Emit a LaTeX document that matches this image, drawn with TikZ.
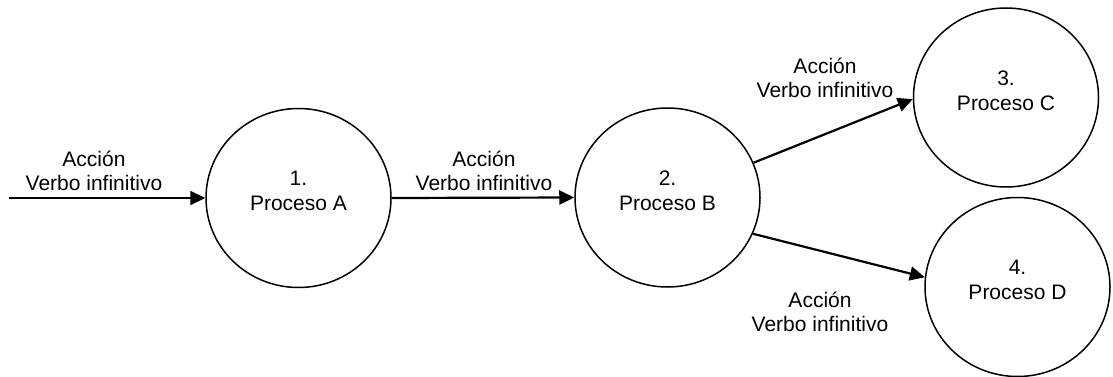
\documentclass[tikz,border=0pt]{standalone}
\usepackage{fontspec}
\setmainfont{Liberation Sans}
\usetikzlibrary{shapes.geometric,arrows.meta}
\begin{document}
\begin{tikzpicture}[x=1pt,y=-1pt,
  proc/.style={ellipse,draw,line width=1.5pt,minimum width=185pt,minimum height=179pt,inner sep=0pt,align=center,text depth=14pt,font=\fontsize{21pt}{25pt}\selectfont},
  flow/.style={line width=2.2pt,-{Triangle[length=15pt,width=14pt]}},
  lbl/.style={align=center,inner sep=0pt,font=\fontsize{21pt}{24pt}\selectfont}]
\useasboundingbox (0,0) rectangle (1113,377);
\node[proc] (A) at (298.5,198) {1.\\Proceso A};
\node[proc] (B) at (667.5,197.5) {2.\\Proceso B};
\node[proc] (C) at (1006,97.5) {3.\\Proceso C};
\node[proc] (D) at (1017.5,287) {4.\\Proceso D};
\coordinate (S) at (9,198);
\draw[flow] (S) -- (A.west);
\draw[flow] (A.east) -- (B.west);
\draw[flow] (B.22) -- (C.181);
\draw[flow] (B.-23) -- (D.174);
\node[lbl] (l1) at (94,171) {Acción\\Verbo infinitivo};
\node[lbl] (l2) at (484,171) {Acción\\Verbo infinitivo};
\node[lbl] (l3) at (825,78) {Acción\\Verbo infinitivo};
\node[lbl] (l4) at (820,312) {Acción\\Verbo infinitivo};
\end{tikzpicture}
\end{document}
